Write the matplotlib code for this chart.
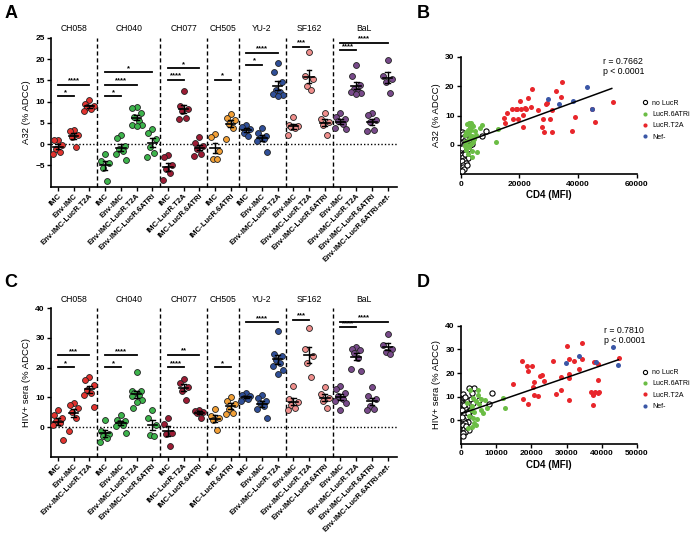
import numpy as np
import matplotlib.pyplot as plt
from matplotlib.lines import Line2D

plt.rcParams['font.family'] = ['Liberation Sans', 'DejaVu Sans']

# ---- panels A / C : categorical scatter ----
groups = ['CH058', 'CH040', 'CH077', 'CH505', 'YU-2', 'SF162', 'BaL']
group_sizes = [3, 4, 3, 2, 3, 3, 4]
categories = ['IMC', 'Env-IMC', 'Env-IMC-LucR.T2A',
              'IMC', 'Env-IMC', 'Env-IMC-LucR.T2A', 'Env-IMC-LucR.6ATRi',
              'IMC', 'IMC-LucR.T2A', 'IMC-LucR.6ATRi',
              'IMC', 'IMC-LucR.6ATRi',
              'IMC', 'Env-IMC', 'Env-IMC-LucR.T2A',
              'Env-IMC', 'Env-IMC-LucR.T2A', 'Env-IMC-LucR.6ATRi',
              'Env-IMC', 'Env-IMC-LucR.T2A', 'Env-IMC-LucR.6ATRi',
              'Env-IMC-LucR.6ATRi-nef-']
group_colors = ['#e2332f', '#3db44c', '#9c1c34', '#f2a037', '#2f4f98', '#ef8e8c', '#784a8a']

a32_values = [
    [1.0, 0.9, -0.3, -1.2, -1.8, -2.3],
    [3.3, 3.0, 2.2, 1.6, -0.7],
    [10.3, 9.5, 9.0, 8.7, 8.2, 7.8],
    [-2.2, -4.0, -4.5, -5.5, -8.7],
    [2.2, 1.4, -0.5, -1.1, -1.6, -2.3, -3.7],
    [8.8, 8.6, 7.4, 6.4, 5.5, 4.6, 4.4, 4.2],
    [3.5, 2.7, 1.2, -0.6, -2.0, -3.0],
    [-2.5, -3.0, -5.0, -5.8, -6.8, -8.5],
    [12.5, 8.9, 8.3, 7.9, 6.2, 5.9],
    [1.6, 0.3, -0.5, -1.2, -2.2, -2.8],
    [2.4, 1.6, -1.5, -3.4, -3.6],
    [7.0, 6.2, 5.6, 4.8, 3.9, 1.1],
    [4.6, 4.1, 3.6, 2.7, 1.8],
    [3.9, 2.6, 2.0, 1.5, 1.2, 0.7, -1.9],
    [19.0, 17.0, 14.5, 12.8, 12.2, 11.8, 11.5, 11.2],
    [6.4, 4.6, 4.3, 4.0, 3.7, 2.1],
    [21.7, 15.9, 15.2, 13.6, 12.8],
    [7.2, 5.8, 5.3, 4.6, 2.2],
    [7.3, 6.4, 5.8, 5.4, 4.8, 3.8, 3.6],
    [18.6, 16.0, 13.8, 12.9, 12.6, 12.2, 11.9, 11.7],
    [7.4, 6.8, 5.7, 5.3, 3.4, 3.0],
    [19.8, 16.0, 15.4, 14.7, 12.0],
]

sera_values = [
    [5.6, 3.9, 3.0, 1.9, 1.3, 0.8, -4.3],
    [8.1, 7.5, 6.4, 4.9, 3.0, -1.2],
    [17.0, 15.9, 14.0, 12.5, 11.5, 10.8, 6.9],
    [2.2, -1.2, -2.2, -3.0, -3.8, -5.1],
    [4.1, 2.4, 1.9, 1.3, 0.8, 0.3, -2.0],
    [18.7, 12.3, 12.0, 11.6, 10.9, 10.3, 9.2, 8.3, 6.4],
    [5.6, 3.0, 0.6, -2.6, -3.1],
    [3.0, 1.1, -2.0, -2.4, -6.3],
    [16.1, 14.8, 13.4, 12.3, 9.2],
    [5.9, 5.5, 5.2, 4.8, 3.0],
    [6.0, 3.6, 2.9, 2.3, -0.9],
    [10.2, 8.9, 7.9, 6.0, 4.7, 4.3],
    [11.4, 10.8, 10.3, 9.8, 9.3, 8.8],
    [10.9, 9.8, 8.6, 8.0, 7.2, 6.1, 3.2],
    [32.2, 24.5, 23.8, 22.6, 21.5, 20.4, 19.3, 17.9],
    [13.7, 9.6, 8.3, 7.4, 6.5, 5.7],
    [33.3, 26.3, 24.0, 21.5, 16.8],
    [13.4, 11.0, 9.8, 8.6, 6.4],
    [13.9, 12.8, 11.4, 10.5, 9.6, 8.8, 8.1, 5.8],
    [27.0, 26.2, 25.8, 24.9, 23.2, 19.6, 19.0],
    [13.4, 10.3, 9.4, 7.0, 6.0, 5.9],
    [31.3, 27.7, 26.2, 25.3, 24.6],
]

# significance: (from category, to category, height, label)
a32_sig = [(0, 1, 11.2, '*'), (0, 2, 13.9, '****'),
           (3, 4, 11.2, '*'), (3, 5, 13.9, '****'), (3, 6, 16.9, '*'),
           (7, 8, 15.1, '****'), (7, 9, 17.8, '*'),
           (10, 11, 15.1, '*'),
           (12, 13, 18.6, '*'), (12, 14, 21.5, '****'),
           (15, 16, 22.9, '***'),
           (18, 19, 22.1, '****'), (18, 21, 23.8, '****')]
sera_sig = [(0, 1, 20.1, '*'), (0, 2, 24.1, '***'),
            (3, 4, 20.1, '*'), (3, 5, 24.1, '****'),
            (7, 8, 20.2, '****'), (7, 9, 24.3, '**'),
            (10, 11, 20.2, '*'),
            (12, 14, 35.3, '****'),
            (15, 16, 36.1, '***'),
            (18, 19, 33.6, '****'), (18, 21, 35.5, '****')]

# ---- panels B / D : CD4 vs ADCC ----
b_nolucr_x = [500, 900, 1400, 700, 1800, 1100, 400, 1600, 800, 2200, 1300, 600, 1900, 1000, 500, 1500,
              800, 2400, 1200, 600, 1700, 900, 700, 1100, 600, 2800, 3300, 2600, 3750, 7150, 8620, 2000,
              300, 1400, 2100]
b_nolucr_y = [4.5, 3.8, 3.0, 2.2, 2.5, 1.4, 0.8, 0.5, -0.3, -0.5, -1.2, -1.8, -2.0, -2.8, -3.4, -3.6,
              -4.2, -4.5, -5.0, -5.6, -6.2, -6.8, -7.6, -8.3, -8.9, 1.5, 0.0, -1.4, 0.2, 3.1, 4.8, 3.6,
              -1.0, -3.0, -7.0]
b_6atri_x = [2200, 2800, 3400, 3900, 4300, 3000, 2500, 3600, 4800, 5200, 4000, 3200, 2600, 4200, 3500,
             2100, 2800, 1900, 3700, 5400, 2400, 3800, 1500, 1300, 1800, 6500, 7400, 12800, 12000, 2900,
             4500, 1600]
b_6atri_y = [7.0, 7.6, 7.4, 6.9, 6.3, 6.0, 5.2, 5.0, 4.6, 3.5, 3.0, 2.4, 1.8, 1.0, 0.4,
             0.0, -0.8, -1.6, -2.0, -2.3, -3.0, -4.0, 3.5, 1.0, 4.5, 5.6, 6.8, 5.3, 0.9, 3.8,
             2.0, -0.5]
b_t2a_x = [14850, 15090, 15670, 17380, 17920, 18840, 19620, 20200, 20540, 21120, 21330, 21910, 22830,
           23850, 24190, 26440, 27590, 27940, 28380, 28960, 29300, 30420, 31000, 31000, 32370, 34170,
           34410, 37820, 38940, 44840, 45860, 51790, 19080, 22250]
b_t2a_y = [9.1, 7.6, 11.0, 12.1, 8.7, 12.3, 8.7, 15.0, 12.2, 6.1, 10.2, 12.5, 15.9,
           13.0, 18.9, 11.9, 6.0, 8.8, 4.3, 13.9, 14.4, 8.8, 4.5, 11.9, 18.5, 16.2,
           21.5, 4.8, 9.4, 12.1, 7.9, 14.5, 12.1, 12.2]
b_nef_x = [29800, 33600, 38370, 43140, 44630]
b_nef_y = [15.5, 13.9, 15.0, 19.6, 12.2]
b_fit_x = [500, 51500]
b_fit_y = [0.6, 19.2]

d_nolucr_x = [500, 900, 1400, 700, 1800, 1100, 400, 1600, 800, 2200, 1300, 600, 1900, 1000, 500, 1500,
              800, 2400, 1200, 600, 1700, 900, 650, 1100, 2800, 3300, 2600, 3690, 2270, 5200, 8720, 8040,
              300, 1400, 2100, 3000]
d_nolucr_y = [11.0, 9.5, 8.0, 7.0, 6.0, 5.0, 4.2, 3.5, 2.8, 2.0, 1.2, 0.5, -0.5, -1.2, -2.0, -2.8,
              -3.5, -4.2, -5.0, -5.5, 8.5, 6.5, -6.8, 10.0, 9.0, 7.5, 4.0, 13.8, 13.8, 8.8, 11.7, 7.1,
              1.5, -2.5, 3.0, 11.5]
d_6atri_x = [11840, 12500, 7470, 6820, 2560, 4930, 3500, 4200, 5000, 5600, 3000, 3800, 4460, 4260, 3030,
             2080, 2400, 5800, 6200, 3300, 4700, 2800, 1800, 3600]
d_6atri_y = [9.6, 5.2, 5.2, 8.5, 12.7, 12.7, 9.5, 8.0, 6.8, 4.5, 6.0, 3.5, 0.7, -2.1, -2.8,
             -3.1, 2.0, 9.0, 3.0, 1.0, 10.5, 4.5, 7.5, -1.0]
d_t2a_x = [30020, 34470, 17420, 26230, 18660, 20080, 19130, 30590, 34290, 32190, 33520, 37880, 39010,
           22440, 23580, 20740, 20550, 14690, 28320, 30680, 30680, 39010, 28500, 26990, 17700, 19130,
           20830, 21960, 30770, 37000, 37600, 38200, 38800, 39300, 37400, 37590, 44890, 22900]
d_t2a_y = [31.5, 32.8, 25.1, 25.1, 22.9, 22.9, 20.9, 26.0, 26.1, 25.1, 21.6, 24.6, 23.7,
           18.8, 16.5, 16.0, 14.1, 15.5, 18.4, 19.4, 17.7, 16.9, 12.7, 11.0, 8.9, 6.8,
           10.6, 10.2, 8.5, 11.8, 11.2, 12.0, 11.4, 11.8, 10.8, 6.4, 26.4, 19.2]
d_nef_x = [29830, 33520, 38350, 43090, 44690]
d_nef_y = [24.4, 27.1, 24.7, 30.8, 23.6]
d_fit_x = [300, 44700]
d_fit_y = [2.9, 25.6]

scatter_labels = ['no LucR', 'LucR.6ATRi', 'LucR.T2A', 'Nef-']
scatter_colors = ['white', '#6bbd45', '#e8262b', '#3b57a6']

TICK_FS = 6
JITTER = [0.0, -0.26, 0.26, -0.13, 0.13, -0.32, 0.32, 0.0, -0.2]


def style_axes(ax):
    for sp in ('top', 'right'):
        ax.spines[sp].set_visible(False)
    for sp in ('left', 'bottom'):
        ax.spines[sp].set_linewidth(1.2)
    ax.tick_params(axis='both', labelsize=TICK_FS, length=3, width=1, pad=1.5)
    for lbl in ax.get_yticklabels():
        lbl.set_fontweight('bold')


def draw_category_panel(ax, values, sig, ymin, ymax, yticks, ylabel):
    npos = len(categories)
    xs = np.arange(npos)
    gi = np.repeat(np.arange(len(groups)), group_sizes)
    ax.axhline(0, color='black', lw=1, ls=(0, (1, 1.5)), zorder=1)
    for i, vals in enumerate(values):
        vals = np.array(vals)
        order = np.argsort(-vals)
        offs = np.zeros(len(vals))
        for k, j in enumerate(order):
            offs[j] = JITTER[k % len(JITTER)]
        ax.scatter(xs[i] + offs, vals, s=18, color=group_colors[gi[i]],
                   edgecolor='#222222', lw=0.6, zorder=3)
        # mean +/- SEM
        m = vals.mean()
        sem = vals.std(ddof=1) / np.sqrt(len(vals))
        ax.plot([xs[i] - 0.3, xs[i] + 0.3], [m, m], color='black', lw=1.2, zorder=4)
        ax.plot([xs[i], xs[i]], [m - sem, m + sem], color='black', lw=1.0, zorder=4)
        for e in (m - sem, m + sem):
            ax.plot([xs[i] - 0.15, xs[i] + 0.15], [e, e], color='black', lw=1.0, zorder=4)
    # group separators and titles
    edges = np.cumsum(group_sizes)
    start = 0
    for g, end in enumerate(edges):
        if end < npos:
            ax.plot([end - 0.5, end - 0.5], [ymin, ymax], color='black', lw=1,
                    ls=(0, (3, 2)), zorder=1, clip_on=False)
        ax.text((start + end - 1) / 2, ymax + (ymax - ymin) * 0.03, groups[g],
                ha='center', va='bottom', fontsize=6.2)
        start = end
    for a, b, h, lab in sig:
        ax.plot([a, b], [h, h], color='black', lw=1.3, zorder=4)
        ax.text((a + b) / 2, h + (ymax - ymin) * 0.002, lab, ha='center', va='bottom',
                fontsize=5.5, fontweight='bold')
    ax.set_xlim(-0.45, npos - 0.4)
    ax.set_ylim(ymin, ymax)
    ax.set_yticks(yticks)
    ax.set_xticks(xs)
    ax.set_xticklabels(categories, rotation=45, ha='right', rotation_mode='anchor',
                       fontweight='bold')
    ax.set_ylabel(ylabel, fontsize=6.8, labelpad=3)
    style_axes(ax)
    ax.tick_params(axis='x', labelsize=5.6, pad=1)


def draw_cd4_panel(ax, data, fit_x, fit_y, xmax, xticks, ymax, yticks, ylabel, rtext):
    for (x, y), lab, col in zip(data, scatter_labels, scatter_colors):
        if col == 'white':
            ax.scatter(x, y, s=14, facecolor='white', edgecolor='black', lw=0.8, zorder=3)
        else:
            ax.scatter(x, y, s=13, color=col, lw=0, zorder=3)
    ax.plot(fit_x, fit_y, color='black', lw=1.1, zorder=4)
    ax.set_xlim(0, xmax)
    ax.set_ylim(-10, ymax)
    ax.set_xticks(xticks)
    ax.set_yticks(yticks)
    ax.set_xlabel('CD4 (MFI)', fontsize=7, fontweight='bold', labelpad=2)
    ax.set_ylabel(ylabel, fontsize=6.8, labelpad=3)
    style_axes(ax)
    for lbl in ax.get_xticklabels():
        lbl.set_fontweight('bold')
    ax.text(0.81, 1.0, rtext, transform=ax.transAxes, ha='left', va='top', fontsize=6.3,
            linespacing=1.15)
    handles = []
    for lab, col in zip(scatter_labels, scatter_colors):
        handles.append(Line2D([], [], ls='none', marker='o', markersize=3,
                              markerfacecolor=col, markeredgecolor='black' if col == 'white' else col,
                              markeredgewidth=0.8 if col == 'white' else 0, label=lab))
    ax.legend(handles=handles, loc='center left', bbox_to_anchor=(1.0, 0.46), frameon=False,
              fontsize=5, handletextpad=0.5, labelspacing=0.62, handlelength=1.0, borderaxespad=0.3)


fig = plt.figure(figsize=(6.95, 5.39), dpi=100)

axA = fig.add_axes([0.0734, 0.6536, 0.4978, 0.2764])
draw_category_panel(axA, a32_values, a32_sig, -10, 25, [-5, 0, 5, 10, 15, 20, 25], 'A32 (% ADCC)')
axC = fig.add_axes([0.0734, 0.1527, 0.4978, 0.2753])
draw_category_panel(axC, sera_values, sera_sig, -10, 40, [0, 10, 20, 30, 40], 'HIV+ sera (% ADCC)')

axB = fig.add_axes([0.6629, 0.6766, 0.2532, 0.2182])
draw_cd4_panel(axB, [(b_nolucr_x, b_nolucr_y), (b_6atri_x, b_6atri_y), (b_t2a_x, b_t2a_y), (b_nef_x, b_nef_y)],
               b_fit_x, b_fit_y, 60000, [0, 20000, 40000, 60000], 30, [0, 10, 20, 30],
               'A32 (% ADCC)', 'r = 0.7662\np < 0.0001')
axD = fig.add_axes([0.6633, 0.1763, 0.2532, 0.2194])
draw_cd4_panel(axD, [(d_nolucr_x, d_nolucr_y), (d_6atri_x, d_6atri_y), (d_t2a_x, d_t2a_y), (d_nef_x, d_nef_y)],
               d_fit_x, d_fit_y, 50000, [0, 10000, 20000, 30000, 40000, 50000], 40, [0, 10, 20, 30, 40],
               'HIV+ sera (% ADCC)', 'r = 0.7810\np < 0.0001')

for letter, x, y in [('A', 0.006, 0.99), ('B', 0.6, 0.99), ('C', 0.006, 0.492), ('D', 0.6, 0.492)]:
    fig.text(x, y, letter, fontsize=13, fontweight='bold', ha='left', va='top')

fig.savefig('out.png', dpi=100)
